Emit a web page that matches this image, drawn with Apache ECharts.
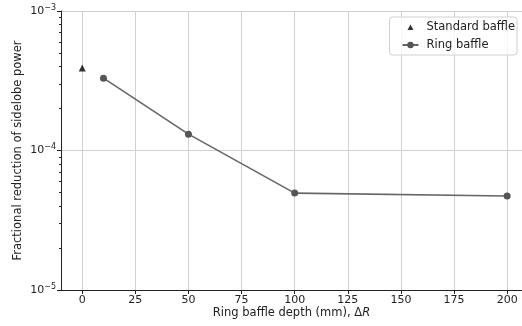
<!DOCTYPE html>
<html><head><meta charset="utf-8">
<script src="https://cdn.jsdelivr.net/npm/echarts@6/dist/echarts.min.js"></script>
<style>html,body{margin:0;padding:0;background:#fff}#c{width:522px;height:326px}</style>
</head><body><div id="c"></div>
<script>
const xTicks = [0, 25, 50, 75, 100, 125, 150, 175, 200];
const yTicks = [1e-5, 1e-4, 1e-3];
const standardX = [0];
const standardY = [3.9e-4];
const ringX = [10, 50, 100, 200];
const ringY = [3.3e-4, 1.31e-4, 4.95e-5, 4.72e-5];
const minorMantissas = [2, 3, 4, 5, 6, 7, 8, 9];
const minorDecades = [-5, -4];

const minorLog = [];
minorDecades.forEach(d => minorMantissas.forEach(m => minorLog.push(Math.log10(m) + d)));

const FONT = 'DejaVu Sans';
const TRI = 'path://M0,0 L0.01,0 Z M16,8 L15.99,8 Z M8,1.5 L11,7 L5,7 Z';
const chart = echarts.init(document.getElementById('c'), null, {renderer: 'canvas'});
chart.setOption({
  animation: false,
  backgroundColor: '#fff',
  textStyle: {fontFamily: FONT},
  grid: {left: 61, top: 11, right: 0, bottom: 36},
  legend: {
    right: 5, top: 17,
    orient: 'vertical',
    itemGap: 6,
    itemWidth: 16, itemHeight: 8,
    borderColor: '#d0d0d0', borderWidth: 1, borderRadius: 3,
    padding: [4, 2, 4, 12],
    backgroundColor: 'rgba(255,255,255,0.8)',
    textStyle: {fontFamily: FONT, fontSize: 11.5, color: '#222', padding: [0, 0, 0, 3]},
    data: [
      {name: 'Standard baffle', icon: TRI, itemStyle: {color: '#000'}},
      {name: 'Ring baffle'}
    ]
  },
  xAxis: {
    type: 'value', min: -10, max: 207,
    axisLine: {onZero: false, lineStyle: {color: '#222', width: 1}},
    axisTick: {customValues: xTicks, length: 4, lineStyle: {color: '#222'}},
    axisLabel: {customValues: xTicks, fontFamily: FONT, fontSize: 11, color: '#222', margin: 5},
    splitLine: {show: true, lineStyle: {color: '#d0d0d0', width: 1}},
    name: 'Ring baffle depth (mm), Δ{i|R}',
    nameLocation: 'middle', nameGap: 17, nameMoveOverlap: false,
    nameTextStyle: {fontFamily: FONT, fontSize: 11.5, color: '#222', verticalAlign: 'top',
      rich: {i: {fontFamily: FONT, fontSize: 11.5, fontStyle: 'italic', color: '#222'}}}
  },
  yAxis: [{
    type: 'log', logBase: 10, min: 1e-5, max: 1e-3,
    axisLine: {show: true, onZero: false, lineStyle: {color: '#222', width: 1}},
    axisTick: {show: true, length: 4, lineStyle: {color: '#222'}},
    axisLabel: {
      fontFamily: FONT, color: '#222', margin: 5,
      formatter: v => '{b|10}{s|−' + Math.round(-Math.log10(v)) + '}',
      rich: {
        b: {fontSize: 11, fontFamily: FONT, color: '#222'},
        s: {fontSize: 8, fontFamily: FONT, color: '#222', padding: [0, 0, 7, 0]}
      }
    },
    splitLine: {show: true, lineStyle: {color: '#d0d0d0', width: 1}},
    name: 'Fractional reduction of sidelobe power',
    nameLocation: 'middle', nameGap: 37, nameRotate: 90, nameMoveOverlap: false,
    nameTextStyle: {fontFamily: FONT, fontSize: 11.5, color: '#222'}
  }, {
    type: 'value', min: -5, max: -3, position: 'left',
    axisLine: {show: false, onZero: false},
    axisTick: {show: true, customValues: minorLog, length: 2, lineStyle: {color: '#222'}},
    axisLabel: {show: false},
    splitLine: {show: false}
  }],
  series: [{
    name: 'Standard baffle', type: 'scatter',
    symbol: 'triangle', symbolSize: 7,
    itemStyle: {color: '#000'},
    data: standardX.map((x, i) => [x, standardY[i]])
  }, {
    name: 'Ring baffle', type: 'line',
    symbol: 'circle', symbolSize: 7, showSymbol: true,
    lineStyle: {color: '#666', width: 1.6},
    itemStyle: {color: '#555'},
    data: ringX.map((x, i) => [x, ringY[i]])
  }]
});
</script></body></html>
